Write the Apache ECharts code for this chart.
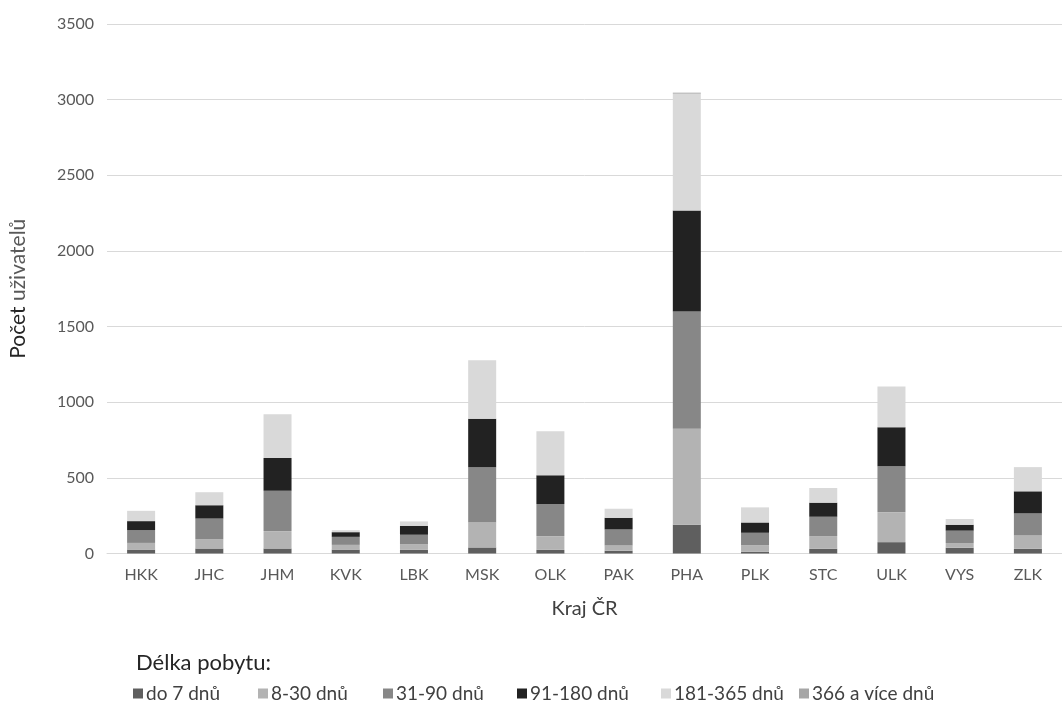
<!DOCTYPE html>
<html><head><meta charset="utf-8">
<script src="https://cdn.jsdelivr.net/npm/echarts@6/dist/echarts.min.js"></script>
<style>html,body{margin:0;padding:0;background:#fff}#c{width:1062px;height:702px}</style>
</head><body><div id="c"></div>
<script>
const categories = ['HKK','JHC','JHM','KVK','LBK','MSK','OLK','PAK','PHA','PLK','STC','ULK','VYS','ZLK'];
const seriesNames = ['do 7 dnů','8-30 dnů','31-90 dnů','91-180 dnů','181-365 dnů','366 a více dnů'];
const d0_7     = [26, 33, 33, 26, 24, 40, 24, 18, 191, 11, 31, 75, 38, 31];
const d8_30    = [44, 62, 115, 31, 38, 167, 91, 35, 634, 44, 84, 197, 31, 88];
const d31_90   = [84, 136, 266, 53, 62, 363, 212, 106, 775, 82, 128, 304, 82, 146];
const d91_180  = [60, 88, 218, 31, 59, 320, 190, 77, 667, 68, 93, 258, 39, 146];
const d181_365 = [68, 86, 289, 13, 29, 388, 291, 60, 773, 100, 97, 270, 38, 160];
const d366     = [0, 0, 0, 0, 0, 0, 0, 0, 6, 0, 0, 0, 0, 0];
const yMin = 0, yMax = 3500, yStep = 500;

const values = [d0_7, d8_30, d31_90, d91_180, d181_365, d366];
const colors = ['#5f5f5f','#b3b3b3','#878787','#222222','#d9d9d9','#a6a6a6'];
const legendLeft = [128, 253, 378, 512, 656, 794];
const FONT = 'Lato, "Open Sans", sans-serif';

const chart = echarts.init(document.getElementById('c'), null, {renderer:'canvas'});
chart.setOption({
  animation: false,
  backgroundColor: '#ffffff',
  textStyle: {fontFamily: FONT},
  title: {text: 'Délka pobytu:', left: 131, top: 647,
          textStyle: {fontFamily: FONT, fontSize: 22, fontWeight: 'normal', color: '#262626'}},
  grid: {left: 106, top: 24, width: 968, height: 529.5, containLabel: false},
  legend: seriesNames.map((n, i) => ({
    data: [n], left: legendLeft[i], top: 679, icon: 'rect',
    itemWidth: 10, itemHeight: 10, itemGap: 0,
    textStyle: {fontFamily: FONT, fontSize: 19, color: '#404040', padding: [0,0,0,-2]}
  })),
  xAxis: {
    type: 'category', data: categories,
    name: 'Kraj ČR', nameLocation: 'middle', nameGap: 45,
    nameTextStyle: {fontFamily: FONT, fontSize: 20, color: '#404040'},
    axisLine: {lineStyle: {color: '#d9d9d9', width: 1}},
    axisTick: {show: false},
    axisLabel: {fontFamily: FONT, fontSize: 16, color: '#595959', margin: 13}
  },
  yAxis: {
    type: 'value', min: yMin, max: yMax, interval: yStep,
    name: '{a|Počet }{b|uživatelů}', nameLocation: 'middle', nameGap: 78, nameRotate: 90,
    nameTextStyle: {rich: {
      a: {fontFamily: FONT, fontSize: 21, color: '#262626'},
      b: {fontFamily: FONT, fontSize: 21, color: '#595959'}
    }},
    axisLine: {show: false}, axisTick: {show: false},
    splitLine: {lineStyle: {color: '#d9d9d9', width: 1}},
    axisLabel: {fontFamily: FONT, fontSize: 16, color: '#595959', margin: 13,
                formatter: v => String(v)}
  },
  series: seriesNames.map((n, i) => ({
    name: n, type: 'bar', stack: 'total', data: values[i], barWidth: 28,
    itemStyle: {color: colors[i]}
  }))
});
</script></body></html>
